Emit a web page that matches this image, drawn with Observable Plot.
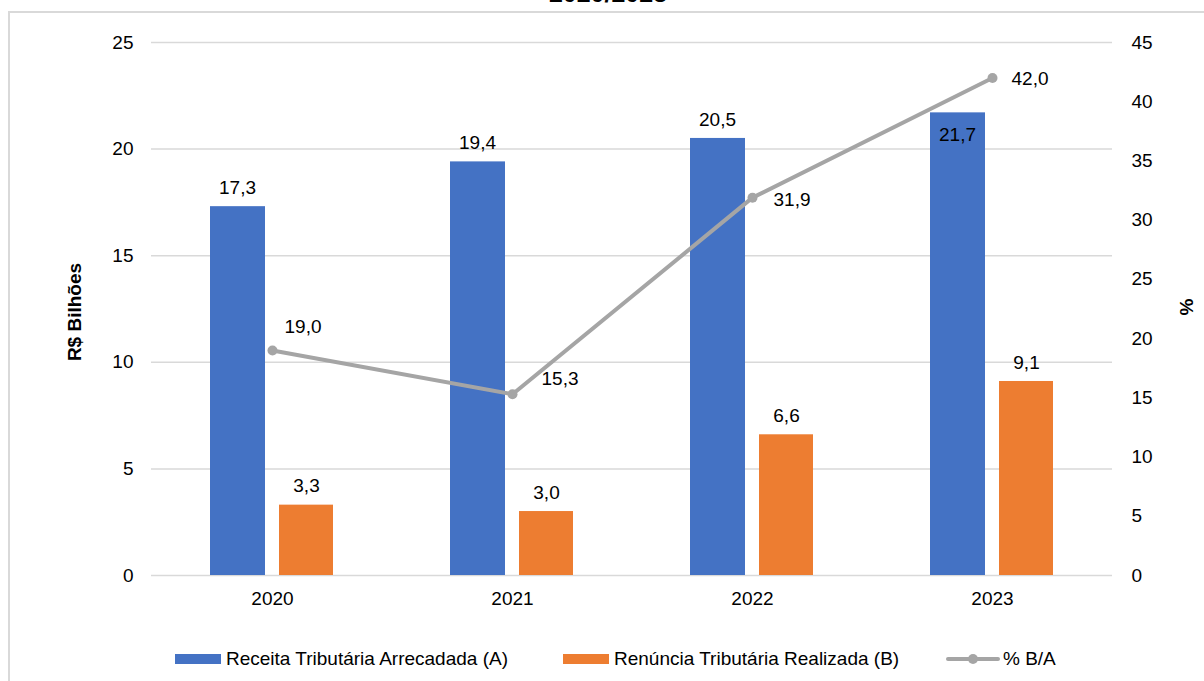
<!DOCTYPE html>
<html>
<head>
<meta charset="utf-8">
<script src="https://cdn.jsdelivr.net/npm/d3@7"></script>
<script src="https://cdn.jsdelivr.net/npm/@observablehq/plot@0.6"></script>
<style>
  html, body { margin: 0; padding: 0; background: #fff; }
  #page { position: relative; width: 1204px; height: 681px; overflow: hidden; font-family: "Liberation Sans", Arial, sans-serif; color: #000; }
  #title { position: absolute; left: 0; width: 1216px; top: -21px; text-align: center; font-weight: bold; font-size: 25px; }
  #frame { position: absolute; left: 8px; top: 11px; width: 1300px; height: 800px; border: 2px solid #d9d9d9; box-sizing: border-box; }
  #chart { position: absolute; left: 0; top: 0; }
  .ylab { position: absolute; font-weight: bold; font-size: 19px; white-space: nowrap; transform: translate(-50%, -50%) rotate(-90deg); }
  #legend { position: absolute; top: 648px; left: 0; width: 1204px; font-size: 19px; }
  .item { position: absolute; display: flex; align-items: center; height: 22px; white-space: nowrap; }
  .sw { width: 46px; height: 10px; margin-right: 5px; }
  .lsw { position: relative; width: 54px; height: 10px; margin-right: 3px; }
  .lsw .ln { position: absolute; left: 0; right: 0; top: 3px; height: 4px; background: #A5A5A5; border-radius: 2px; }
  .lsw .pt { position: absolute; left: 22px; top: 0; width: 10px; height: 10px; border-radius: 5px; background: #A5A5A5; }
</style>
</head>
<body>
<div id="page">
  <div id="title">2020/2023</div>
  <div id="frame"></div>
  <div id="chart"></div>
  <div class="ylab" style="left:75px; top:312px;">R$ Bilhões</div>
  <div class="ylab" style="left:1187px; top:307px;">%</div>
  <div id="legend">
    <div class="item" style="left:175px"><div class="sw" style="background:#4472C4"></div>Receita Tributária Arrecadada (A)</div>
    <div class="item" style="left:563px"><div class="sw" style="background:#ED7D31"></div>Renúncia Tributária Realizada (B)</div>
    <div class="item" style="left:946px"><div class="lsw"><div class="ln"></div><div class="pt"></div></div>% B/A</div>
  </div>
</div>
<script>
// Receita arrecadada vs. renúncia tributária (R$ bilhões) and the ratio B/A (%)
const years = ["2020", "2021", "2022", "2023"];
const receita = [17.3, 19.4, 20.5, 21.7];
const renuncia = [3.3, 3.0, 6.6, 9.1];
const pctBA = [19.0, 15.3, 31.9, 42.0];
const leftTicks = [0, 5, 10, 15, 20, 25];
const rightTicks = [0, 5, 10, 15, 20, 25, 30, 35, 40, 45];

const yMax = 25;   // left axis maximum (R$ bilhões)
const pMax = 45;   // right axis maximum (%)
const toLeft = p => p * yMax / pMax;
const fmt = v => v.toFixed(1).replace(".", ",");

const rows = years.map((year, i) => ({year, receita: receita[i], renuncia: renuncia[i], pct: pctBA[i]}));

const BLUE = "#4472C4", ORANGE = "#ED7D31", GRAY = "#A5A5A5";
const font = "Liberation Sans, Arial, sans-serif";
const FS = 19;

// label placement for the ratio line (offsets from each point)
const lineLabelNudge = {
  "2020": {dx: 12, dy: -24},
  "2021": {dx: 29, dy: -15},
  "2022": {dx: 21, dy: 2},
  "2023": {dx: 19, dy: 1}
};

const chart = Plot.plot({
  width: 1204,
  height: 620,
  marginTop: 42,
  marginBottom: 45,
  marginLeft: 151,
  marginRight: 92,
  style: {fontFamily: font, fontSize: FS + "px", color: "#000", background: "transparent"},
  x: {type: "band", domain: years, padding: 0},
  y: {domain: [0, yMax]},
  marks: [
    Plot.gridY(leftTicks, {stroke: "#d9d9d9", strokeOpacity: 1, strokeWidth: 1.5}),
    Plot.axisY(leftTicks, {anchor: "left", tickSize: 0, tickPadding: 18, fontSize: FS, label: null}),
    Plot.axisY(rightTicks.map(toLeft), {anchor: "right", tickSize: 0, tickPadding: 19, fontSize: FS, label: null,
      tickFormat: d => String(Math.round(d * pMax / yMax))}),
    Plot.axisX({tickSize: 0, tickPadding: 16, fontSize: FS, label: null}),
    Plot.barY(rows, {x: "year", y: "receita", fill: BLUE, insetLeft: 58, insetRight: 127}),
    Plot.barY(rows, {x: "year", y: "renuncia", fill: ORANGE, insetLeft: 127, insetRight: 59}),
    // value labels above the bars (the last revenue bar carries its label inside the top)
    Plot.text(rows.filter(d => d.year !== "2023"), {x: "year", y: "receita", text: d => fmt(d.receita),
      dx: -35, dy: -19, fontSize: FS, fill: "#000"}),
    Plot.text(rows.filter(d => d.year === "2023"), {x: "year", y: "receita", text: d => fmt(d.receita),
      dx: -35, dy: 22, fontSize: FS, fill: "#000"}),
    Plot.text(rows, {x: "year", y: "renuncia", text: d => fmt(d.renuncia),
      dx: 34, dy: -19, fontSize: FS, fill: "#000"}),
    Plot.line(rows, {x: "year", y: d => toLeft(d.pct), stroke: GRAY, strokeWidth: 4, strokeLinecap: "round"}),
    Plot.dot(rows, {x: "year", y: d => toLeft(d.pct), r: 5, fill: GRAY, stroke: null}),
    ...years.map(yr => Plot.text(rows.filter(d => d.year === yr), {
      x: "year", y: d => toLeft(d.pct), text: d => fmt(d.pct),
      textAnchor: "start", dx: lineLabelNudge[yr].dx, dy: lineLabelNudge[yr].dy, fontSize: FS, fill: "#000"
    }))
  ]
});

document.getElementById("chart").appendChild(chart);
</script>
</body>
</html>
